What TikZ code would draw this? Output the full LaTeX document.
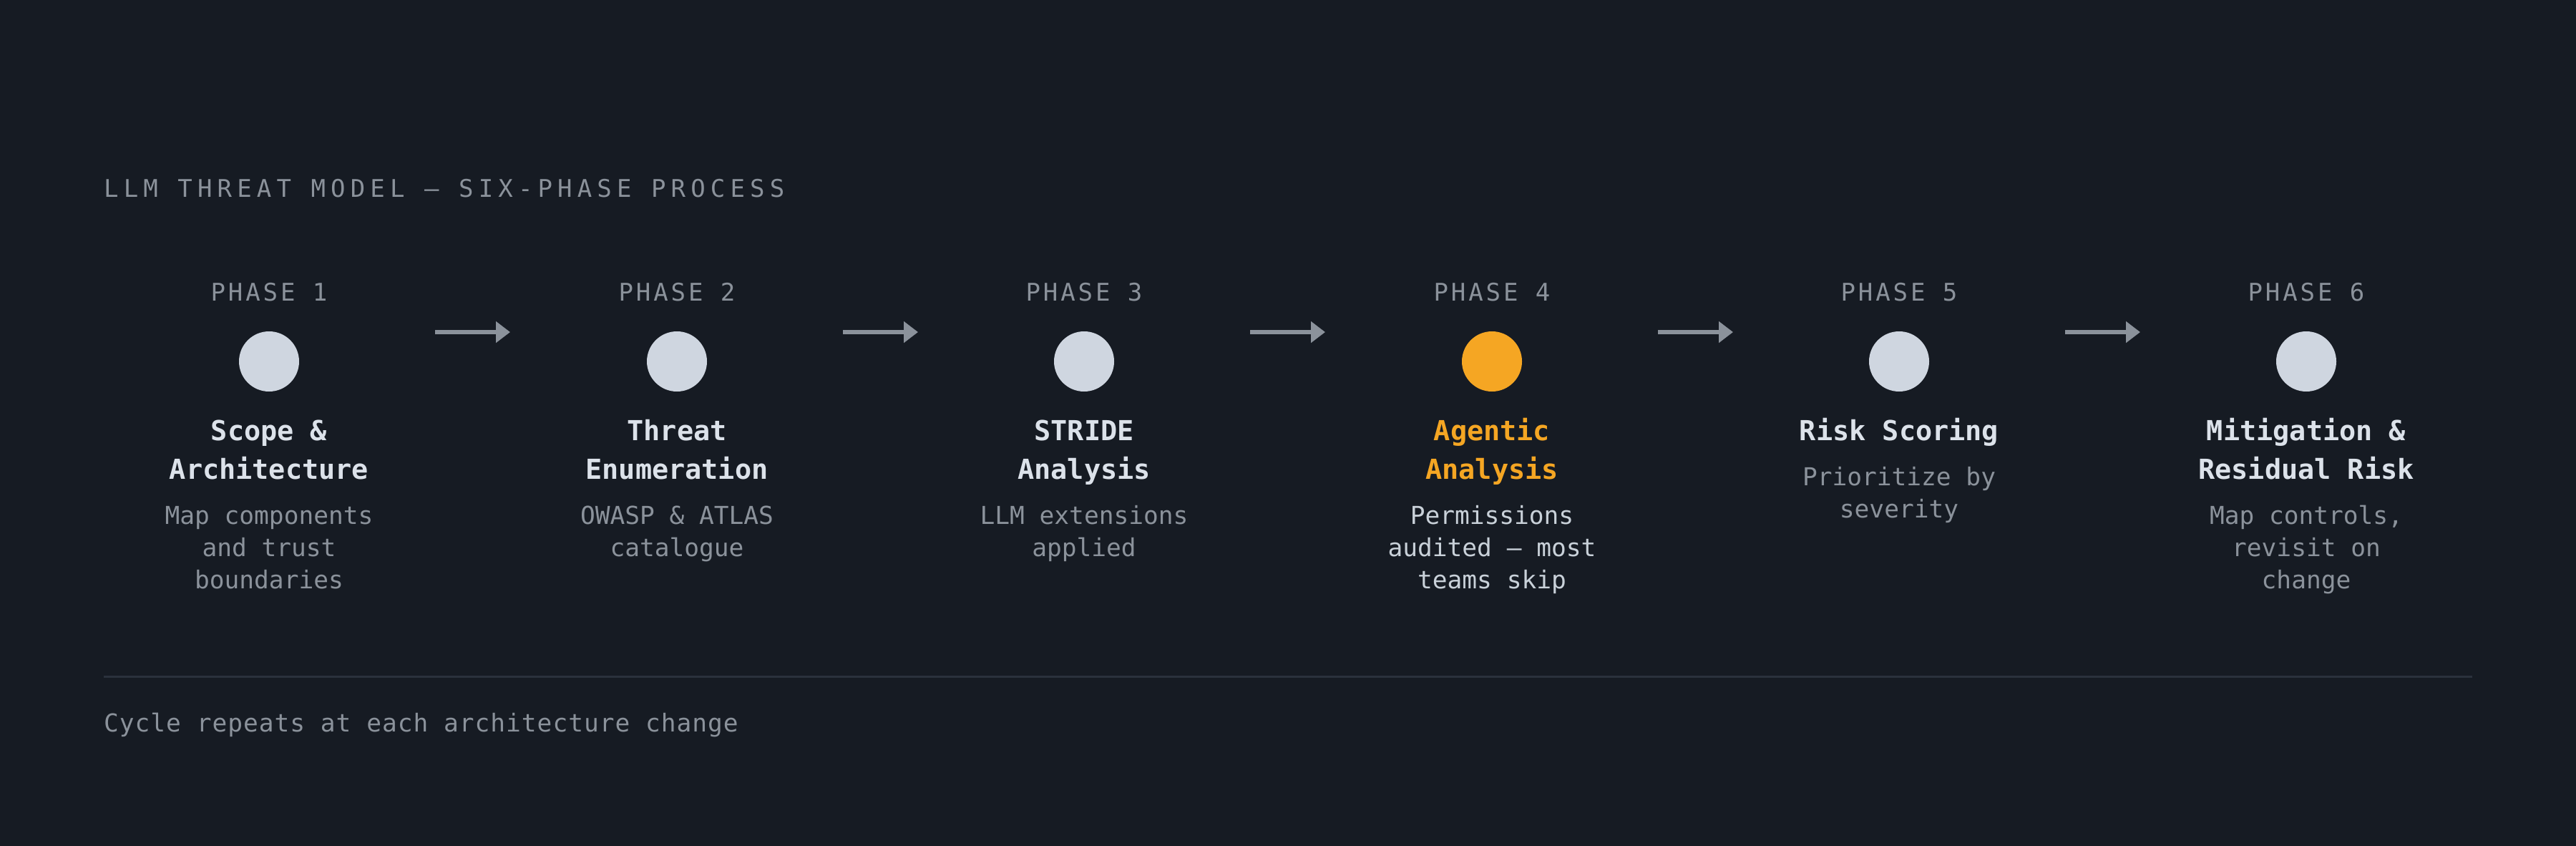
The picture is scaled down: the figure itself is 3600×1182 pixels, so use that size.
\documentclass[tikz,border=0pt]{standalone}
\usepackage{fontspec}
\usetikzlibrary{arrows.meta}
\setmonofont{DejaVu Sans Mono}
\newfontfamily\capfont[LetterSpace=21]{DejaVu Sans Mono}
\newfontfamily\phfont[LetterSpace=11.5]{DejaVu Sans Mono}
\newfontfamily\bodyfont{DejaVu Sans Mono}
\newfontfamily\footfont[LetterSpace=2.9]{DejaVu Sans Mono}
\definecolor{bg}{HTML}{161B23}
\definecolor{dot}{HTML}{CFD6E0}
\definecolor{accent}{HTML}{F5A623}
\definecolor{muted}{HTML}{8B929B}
\definecolor{headc}{HTML}{DCE2EA}
\definecolor{brightdesc}{HTML}{C9D1D9}
\definecolor{rule}{HTML}{2A313C}
\tikzset{
  caption/.style={inner sep=0pt, text=muted, font=\capfont\fontsize{34}{40}\selectfont},
  phaselbl/.style={inner sep=0pt, text=muted, font=\phfont\fontsize{34}{40}\selectfont},
  dotnode/.style={circle, fill=dot, draw=none, minimum size=84pt, inner sep=0pt},
  headtxt/.style={inner sep=0pt, align=center, text=headc, font=\bodyfont\bfseries\fontsize{38.5}{54}\selectfont},
  desctxt/.style={inner sep=0pt, align=center, text=muted, font=\bodyfont\fontsize{34.5}{45}\selectfont},
  flowarrow/.style={draw=muted, line width=6pt, -{Triangle[length=20pt,width=29pt]}},
  footer/.style={inner sep=0pt, text=muted, font=\footfont\fontsize{34.5}{40}\selectfont}
}
\begin{document}
\begin{tikzpicture}[x=1pt,y=-1pt]
\fill[bg] (0,0) rectangle (3600,1182);
\useasboundingbox (0,0) rectangle (3600,1182);
\node[caption, anchor=base west] (title) at (145,276) {LLM THREAT MODEL — SIX-PHASE PROCESS};
% phase labels
\node[phaselbl, anchor=base] (p1) at (376,420) {PHASE 1};
\node[phaselbl, anchor=base] (p2) at (946,420) {PHASE 2};
\node[phaselbl, anchor=base] (p3) at (1515,420) {PHASE 3};
\node[phaselbl, anchor=base] (p4) at (2085,420) {PHASE 4};
\node[phaselbl, anchor=base] (p5) at (2654,420) {PHASE 5};
\node[phaselbl, anchor=base] (p6) at (3223,420) {PHASE 6};
% dots
\node[dotnode] (d1) at (376,505) {};
\node[dotnode] (d2) at (946,505) {};
\node[dotnode] (d3) at (1515,505) {};
\node[dotnode, fill=accent] (d4) at (2085,505) {};
\node[dotnode] (d5) at (2654,505) {};
\node[dotnode] (d6) at (3223,505) {};
% arrows
\coordinate (a1s) at (608,464); \coordinate (a1e) at (713,464);
\coordinate (a2s) at (1178,464); \coordinate (a2e) at (1283,464);
\coordinate (a3s) at (1747,464); \coordinate (a3e) at (1852,464);
\coordinate (a4s) at (2317,464); \coordinate (a4e) at (2422,464);
\coordinate (a5s) at (2886,464); \coordinate (a5e) at (2991,464);
\draw[flowarrow] (a1s) -- (a1e);
\draw[flowarrow] (a2s) -- (a2e);
\draw[flowarrow] (a3s) -- (a3e);
\draw[flowarrow] (a4s) -- (a4e);
\draw[flowarrow] (a5s) -- (a5e);
% headings (base anchor = last line baseline)
\node[headtxt, anchor=base] (h1) at (376,669) {Scope \&\\Architecture};
\node[headtxt, anchor=base] (h2) at (946,669) {Threat\\Enumeration};
\node[headtxt, anchor=base] (h3) at (1515,669) {STRIDE\\Analysis};
\node[headtxt, anchor=base, text=accent] (h4) at (2085,669) {Agentic\\Analysis};
\node[headtxt, anchor=base] (h5) at (2654,615) {Risk Scoring};
\node[headtxt, anchor=base] (h6) at (3223,669) {Mitigation \&\\Residual Risk};
% descriptions
\node[desctxt, anchor=base] (s1) at (376,822) {Map components\\and trust\\boundaries};
\node[desctxt, anchor=base] (s2) at (946,777) {OWASP \& ATLAS\\catalogue};
\node[desctxt, anchor=base] (s3) at (1515,777) {LLM extensions\\applied};
\node[desctxt, anchor=base, text=brightdesc] (s4) at (2085,822) {Permissions\\audited — most\\teams skip};
\node[desctxt, anchor=base] (s5) at (2654,723) {Prioritize by\\severity};
\node[desctxt, anchor=base] (s6) at (3223,822) {Map controls,\\revisit on\\change};
% separator
\coordinate (r1) at (145,945); \coordinate (r2) at (3455,945);
\draw[rule, line width=3pt] (r1) -- (r2);
\node[footer, anchor=base west] (foot) at (145,1022) {Cycle repeats at each architecture change};
\end{tikzpicture}
\end{document}
